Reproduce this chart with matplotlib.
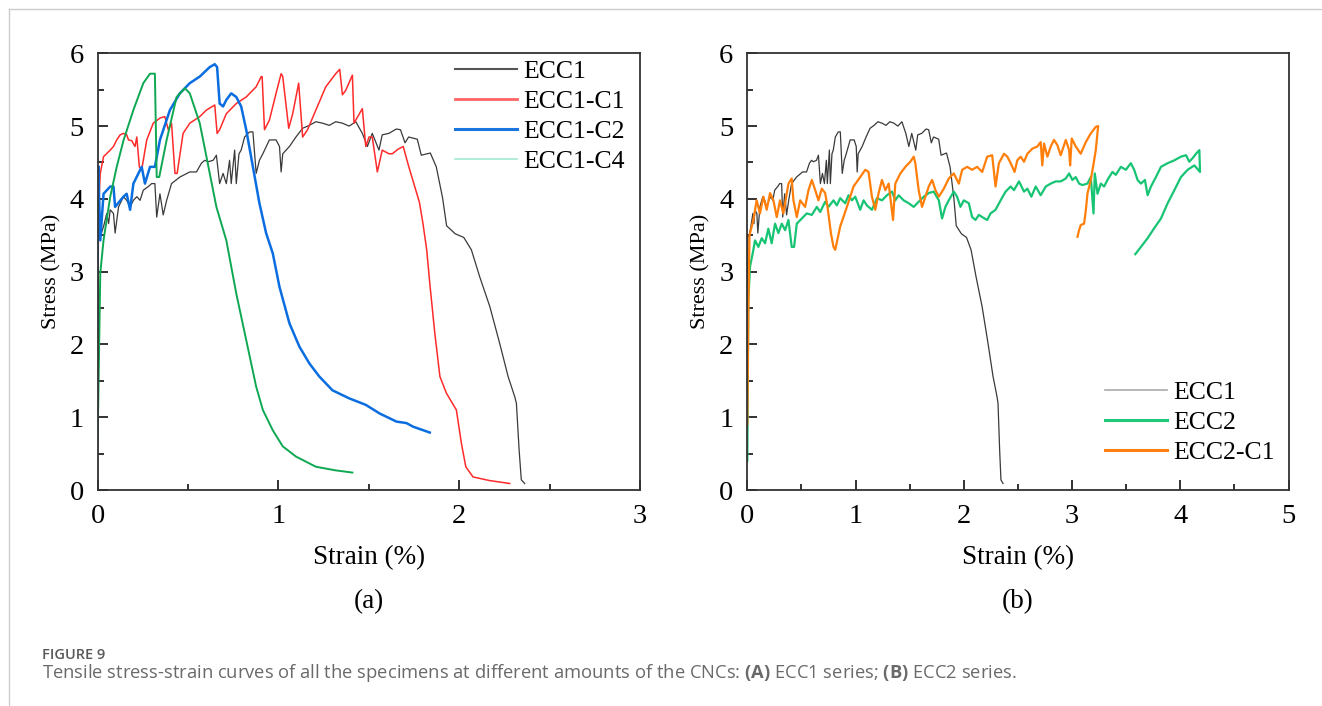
import numpy as np
import matplotlib
matplotlib.use('Agg')
import matplotlib.pyplot as plt
from matplotlib.lines import Line2D
from matplotlib.ticker import MultipleLocator

plt.rcParams['font.family'] = ['Liberation Serif', 'DejaVu Serif']
plt.rcParams['mathtext.fontset'] = 'custom'
plt.rcParams['mathtext.rm'] = 'Open Sans'
plt.rcParams['mathtext.bf'] = 'Open Sans:bold'

#%% data (strain %, stress MPa)
ecc1 = [(0.0, 0.6), (0.005, 3.5), (0.015, 3.48), (0.033, 3.62), (0.051, 3.80), (0.061, 3.66),
        (0.070, 3.85), (0.088, 3.80), (0.097, 3.53), (0.116, 3.89), (0.143, 4.03), (0.161, 3.98),
        (0.180, 3.89), (0.198, 3.98), (0.217, 4.03), (0.235, 3.98), (0.253, 4.12), (0.281, 4.17),
        (0.299, 4.21), (0.317, 4.21), (0.327, 3.75), (0.345, 4.07), (0.363, 3.78), (0.382, 3.98),
        (0.409, 4.21), (0.455, 4.30), (0.510, 4.37), (0.547, 4.37), (0.574, 4.49), (0.593, 4.53),
        (0.611, 4.51), (0.639, 4.53), (0.657, 4.60), (0.675, 4.21), (0.694, 4.35), (0.712, 4.21),
        (0.730, 4.53), (0.739, 4.21), (0.758, 4.67), (0.767, 4.21), (0.782, 4.62), (0.794, 4.67),
        (0.813, 4.85), (0.840, 4.92), (0.859, 4.92), (0.877, 4.35), (0.895, 4.53), (0.914, 4.62),
        (0.950, 4.81), (0.987, 4.81), (1.006, 4.72), (1.015, 4.37), (1.024, 4.62), (1.061, 4.72),
        (1.097, 4.85), (1.134, 4.97), (1.171, 5.01), (1.207, 5.06), (1.244, 5.04), (1.281, 5.01),
        (1.317, 5.06), (1.354, 5.04), (1.391, 5.00), (1.428, 5.06), (1.464, 4.90), (1.492, 4.72),
        (1.519, 4.90), (1.556, 4.67), (1.574, 4.88), (1.611, 4.90), (1.652, 4.96), (1.675, 4.95),
        (1.700, 4.77), (1.720, 4.85), (1.768, 4.82), (1.790, 4.60), (1.840, 4.63), (1.873, 4.44),
        (1.908, 4.01), (1.930, 3.63), (1.978, 3.52), (2.025, 3.47), (2.067, 3.30), (2.113, 2.93),
        (2.169, 2.52), (2.224, 2.01), (2.270, 1.56), (2.307, 1.28), (2.316, 1.19), (2.331, 0.55),
        (2.343, 0.14), (2.362, 0.09)]

ecc1_c1 = [(0.0, 2.9), (0.008, 4.0), (0.015, 4.35), (0.033, 4.58), (0.070, 4.67), (0.088, 4.72),
           (0.106, 4.81), (0.125, 4.88), (0.143, 4.90), (0.161, 4.88), (0.171, 4.81), (0.189, 4.80),
           (0.207, 4.72), (0.217, 4.85), (0.231, 4.44), (0.244, 4.40), (0.272, 4.81), (0.308, 5.04),
           (0.345, 5.11), (0.372, 5.13), (0.391, 4.95), (0.409, 5.04), (0.428, 4.35), (0.440, 4.35),
           (0.473, 4.90), (0.510, 5.04), (0.565, 5.13), (0.602, 5.22), (0.648, 5.29), (0.661, 4.90),
           (0.675, 4.95), (0.712, 5.17), (0.767, 5.31), (0.822, 5.40), (0.877, 5.54), (0.905, 5.68),
           (0.910, 5.68), (0.923, 4.95), (0.950, 5.08), (0.987, 5.45), (1.015, 5.72), (1.024, 5.68),
           (1.057, 4.97), (1.079, 5.17), (1.112, 5.59), (1.134, 4.85), (1.161, 4.95), (1.207, 5.22),
           (1.262, 5.54), (1.317, 5.72), (1.339, 5.78), (1.354, 5.43), (1.372, 5.49), (1.409, 5.70),
           (1.418, 5.04), (1.464, 5.24), (1.483, 4.72), (1.501, 4.85), (1.519, 4.85), (1.547, 4.37),
           (1.574, 4.67), (1.611, 4.62), (1.630, 4.62), (1.660, 4.68), (1.690, 4.72), (1.720, 4.45),
           (1.750, 4.20), (1.780, 3.95), (1.800, 3.65), (1.820, 3.30), (1.837, 2.84), (1.865, 2.15),
           (1.893, 1.56), (1.929, 1.33), (1.984, 1.10), (2.012, 0.64), (2.036, 0.32), (2.076, 0.18),
           (2.168, 0.13), (2.279, 0.09)]

ecc1_c2 = [(0.0, 3.0), (0.004, 4.45), (0.015, 3.43), (0.033, 4.07), (0.070, 4.17), (0.088, 4.17),
           (0.097, 3.89), (0.143, 4.03), (0.161, 4.07), (0.180, 3.85), (0.198, 4.21), (0.244, 4.44),
           (0.262, 4.21), (0.290, 4.44), (0.317, 4.44), (0.345, 4.81), (0.400, 5.22), (0.455, 5.45),
           (0.510, 5.59), (0.565, 5.68), (0.620, 5.81), (0.648, 5.85), (0.661, 5.81), (0.675, 5.31),
           (0.694, 5.27), (0.712, 5.36), (0.739, 5.45), (0.767, 5.40), (0.794, 5.27), (0.822, 4.95),
           (0.859, 4.44), (0.895, 3.94), (0.932, 3.53), (0.969, 3.25), (1.006, 2.79), (1.061, 2.29),
           (1.116, 1.97), (1.171, 1.74), (1.226, 1.56), (1.299, 1.37), (1.391, 1.26), (1.483, 1.17),
           (1.561, 1.05), (1.653, 0.94), (1.708, 0.92), (1.745, 0.87), (1.837, 0.79)]

ecc1_c4 = [(0.0, 0.6), (0.015, 2.98), (0.033, 3.43), (0.070, 4.03), (0.106, 4.44), (0.143, 4.80),
           (0.198, 5.22), (0.253, 5.59), (0.290, 5.72), (0.317, 5.72), (0.327, 4.30), (0.341, 4.30),
           (0.382, 4.81), (0.437, 5.40), (0.483, 5.52), (0.510, 5.45), (0.565, 5.04), (0.602, 4.58),
           (0.657, 3.89), (0.712, 3.43), (0.767, 2.70), (0.822, 2.06), (0.877, 1.42), (0.914, 1.10),
           (0.969, 0.82), (1.024, 0.60), (1.097, 0.46), (1.207, 0.32), (1.317, 0.27), (1.409, 0.24)]

ecc2 = [(0.0, 0.4), (0.009, 2.61), (0.025, 3.07), (0.056, 3.30), (0.071, 3.43), (0.102, 3.34),
        (0.133, 3.46), (0.164, 3.39), (0.194, 3.59), (0.225, 3.39), (0.256, 3.66), (0.287, 3.53),
        (0.318, 3.66), (0.349, 3.57), (0.380, 3.71), (0.410, 3.34), (0.432, 3.34), (0.457, 3.66),
        (0.503, 3.73), (0.549, 3.80), (0.596, 3.78), (0.642, 3.89), (0.673, 3.82), (0.719, 3.96),
        (0.750, 3.89), (0.796, 3.98), (0.827, 3.91), (0.858, 4.01), (0.904, 3.94), (0.935, 4.05),
        (0.966, 3.98), (0.997, 4.03), (1.043, 3.85), (1.074, 3.98), (1.105, 3.91), (1.151, 3.85),
        (1.198, 4.01), (1.244, 3.98), (1.290, 4.05), (1.336, 4.10), (1.367, 3.98), (1.398, 4.05),
        (1.444, 3.98), (1.491, 3.94), (1.537, 3.89), (1.583, 3.96), (1.630, 4.03), (1.676, 4.08),
        (1.722, 4.10), (1.769, 3.98), (1.799, 3.73), (1.830, 3.89), (1.861, 3.98), (1.907, 4.10),
        (1.938, 4.03), (1.969, 3.89), (2.000, 3.98), (2.046, 3.94), (2.077, 3.75), (2.108, 3.71),
        (2.139, 3.78), (2.170, 3.75), (2.216, 3.71), (2.247, 3.80), (2.293, 3.85), (2.340, 3.98),
        (2.386, 4.10), (2.433, 4.17), (2.463, 4.12), (2.510, 4.24), (2.556, 4.10), (2.587, 4.14),
        (2.624, 4.03), (2.664, 4.17), (2.710, 4.05), (2.757, 4.17), (2.803, 4.21), (2.849, 4.24),
        (2.895, 4.24), (2.942, 4.28), (2.973, 4.35), (3.003, 4.26), (3.034, 4.30), (3.065, 4.21),
        (3.096, 4.19), (3.142, 4.21), (3.173, 4.30), (3.198, 3.80), (3.210, 4.35), (3.235, 4.07),
        (3.266, 4.21), (3.296, 4.17), (3.327, 4.26), (3.373, 4.37), (3.404, 4.33), (3.451, 4.44),
        (3.497, 4.40), (3.543, 4.49), (3.574, 4.40), (3.605, 4.26), (3.636, 4.21), (3.673, 4.26),
        (3.698, 4.05), (3.729, 4.17), (3.775, 4.30), (3.821, 4.44), (3.883, 4.49), (3.945, 4.53),
        (4.006, 4.58), (4.053, 4.60), (4.083, 4.51), (4.114, 4.56), (4.145, 4.62), (4.176, 4.67),
        (4.182, 4.37), (4.130, 4.46), (4.068, 4.40), (4.006, 4.30), (3.945, 4.12), (3.883, 3.94),
        (3.821, 3.73), (3.760, 3.60), (3.698, 3.46), (3.636, 3.34), (3.584, 3.24)]

ecc2_c1 = [(0.0, 0.9), (0.010, 2.5), (0.020, 3.5), (0.025, 3.53), (0.056, 3.71), (0.086, 3.98),
           (0.117, 3.80), (0.148, 4.03), (0.179, 3.85), (0.210, 4.08), (0.241, 3.98), (0.272, 3.75),
           (0.302, 3.98), (0.333, 3.80), (0.380, 4.21), (0.410, 4.28), (0.426, 3.98), (0.457, 3.75),
           (0.488, 3.98), (0.534, 3.89), (0.565, 4.12), (0.596, 4.26), (0.627, 4.12), (0.657, 3.98),
           (0.688, 4.14), (0.719, 4.08), (0.741, 3.89), (0.772, 3.53), (0.796, 3.34), (0.812, 3.30),
           (0.858, 3.62), (0.920, 3.89), (0.981, 4.17), (1.043, 4.30), (1.090, 4.40), (1.120, 4.37),
           (1.151, 4.03), (1.182, 3.85), (1.213, 4.08), (1.244, 4.26), (1.275, 4.12), (1.306, 4.21),
           (1.346, 3.71), (1.367, 4.21), (1.414, 4.35), (1.460, 4.44), (1.506, 4.51), (1.537, 4.58),
           (1.552, 4.49), (1.583, 4.12), (1.614, 3.89), (1.645, 4.03), (1.676, 4.17), (1.707, 4.26),
           (1.738, 4.12), (1.769, 4.03), (1.815, 4.14), (1.861, 4.28), (1.907, 4.35), (1.954, 4.21),
           (1.985, 4.40), (2.031, 4.44), (2.077, 4.40), (2.123, 4.44), (2.170, 4.37), (2.216, 4.58),
           (2.262, 4.60), (2.293, 4.17), (2.324, 4.49), (2.371, 4.62), (2.402, 4.58), (2.433, 4.49),
           (2.469, 4.37), (2.494, 4.53), (2.525, 4.58), (2.556, 4.51), (2.587, 4.62), (2.633, 4.69),
           (2.679, 4.72), (2.710, 4.78), (2.725, 4.46), (2.741, 4.76), (2.772, 4.58), (2.803, 4.72),
           (2.833, 4.81), (2.864, 4.74), (2.895, 4.60), (2.942, 4.81), (2.973, 4.67), (2.982, 4.46),
           (2.997, 4.83), (3.034, 4.72), (3.080, 4.62), (3.127, 4.78), (3.173, 4.90), (3.219, 4.99),
           (3.241, 5.00), (3.219, 4.67), (3.204, 4.53), (3.173, 4.26), (3.142, 4.07), (3.127, 3.84),
           (3.111, 3.66), (3.080, 3.64), (3.065, 3.57), (3.050, 3.48)]

labels_a = ['ECC1', 'ECC1-C1', 'ECC1-C2', 'ECC1-C4']
labels_b = ['ECC1', 'ECC2', 'ECC2-C1']
caption_head = 'FIGURE 9'
caption = ('Tensile stress-strain curves of all the specimens at different amounts of the CNCs: '
           r'$\mathbf{(A)}$ ECC1 series; $\mathbf{(B)}$ ECC2 series.')

#%% figure
fig = plt.figure(figsize=(13.22, 7.06), dpi=100)
ax_a = fig.add_axes([0.0738, 0.3059, 0.4104, 0.6186])
ax_b = fig.add_axes([0.5653, 0.3059, 0.4094, 0.6186])


def xy(pairs):
    arr = np.array(pairs)
    return arr[:, 0], arr[:, 1]


ax_a.plot(*xy(ecc1), color='#3a3a3a', lw=0.9)
ax_a.plot(*xy(ecc1_c1), color='#ff2b2b', lw=1.1)
ax_a.plot(*xy(ecc1_c2), color='#0a6de0', lw=1.8)
ax_a.plot(*xy(ecc1_c4), color='#0ea852', lw=1.4)

ax_b.plot(*xy(ecc1), color='#3a3a3a', lw=0.9)
ax_b.plot(*xy(ecc2), color='#17c474', lw=1.6)
ax_b.plot(*xy(ecc2_c1), color='#ff7f0a', lw=1.6)

for ax, xmax, lab in [(ax_a, 3, '(a)'), (ax_b, 5, '(b)')]:
    ax.set_xlim(0, xmax)
    ax.set_ylim(0, 6)
    ax.xaxis.set_major_locator(MultipleLocator(1))
    ax.xaxis.set_minor_locator(MultipleLocator(0.5))
    ax.yaxis.set_major_locator(MultipleLocator(1))
    ax.yaxis.set_minor_locator(MultipleLocator(0.5))
    ax.tick_params(which='both', direction='in', top=False, right=False,
                   width=1.3, color='#222222', labelsize=20.5)
    ax.tick_params(which='major', length=7, pad=10)
    ax.tick_params(which='minor', length=4)
    for s in ax.spines.values():
        s.set_linewidth(1.3)
        s.set_color('#333333')
    ax.set_xlabel('Strain (%)', fontsize=19.5, labelpad=12)
    ax.set_ylabel('Stress (MPa)', fontsize=16, labelpad=6)
    ax.text(0.5, -0.255, lab, transform=ax.transAxes, ha='center', va='center', fontsize=19.5)

h_a = [Line2D([], [], color='#555555', lw=1.5),
       Line2D([], [], color='#ff6464', lw=2.0),
       Line2D([], [], color='#1a75e0', lw=2.2),
       Line2D([], [], color='#a6ead0', lw=1.2)]
ax_a.legend(h_a, labels_a, loc='upper left', bbox_to_anchor=(0.659, 0.985), frameon=False,
            fontsize=18.5, borderpad=0, borderaxespad=0, handlelength=2.4,
            handletextpad=0.25, labelspacing=0.28)

h_b = [Line2D([], [], color='#aaaaaa', lw=1.2),
       Line2D([], [], color='#1ec878', lw=2.2),
       Line2D([], [], color='#ff8010', lw=2.2)]
ax_b.legend(h_b, labels_b, loc='upper left', bbox_to_anchor=(0.661, 0.25), frameon=False,
            fontsize=18.5, borderpad=0, borderaxespad=0, handlelength=2.4,
            handletextpad=0.25, labelspacing=0.28)

# page frame and caption
fig.add_artist(Line2D([0.007, 1.0], [0.9868, 0.9868], transform=fig.transFigure,
                      color='#cccccc', lw=1.0))
fig.add_artist(Line2D([0.007, 0.007], [0.0, 0.9868], transform=fig.transFigure,
                      color='#cccccc', lw=1.0))
fig.text(0.0318, 0.0722, caption_head, family='Open Sans', fontsize=10.5, fontweight='semibold',
         color='#595959', va='center', ha='left')
fig.text(0.0318, 0.0467, caption, family='Open Sans', fontsize=13.2, color='#6a6a6a',
         va='center', ha='left')

plt.savefig('out.png', dpi=100)
